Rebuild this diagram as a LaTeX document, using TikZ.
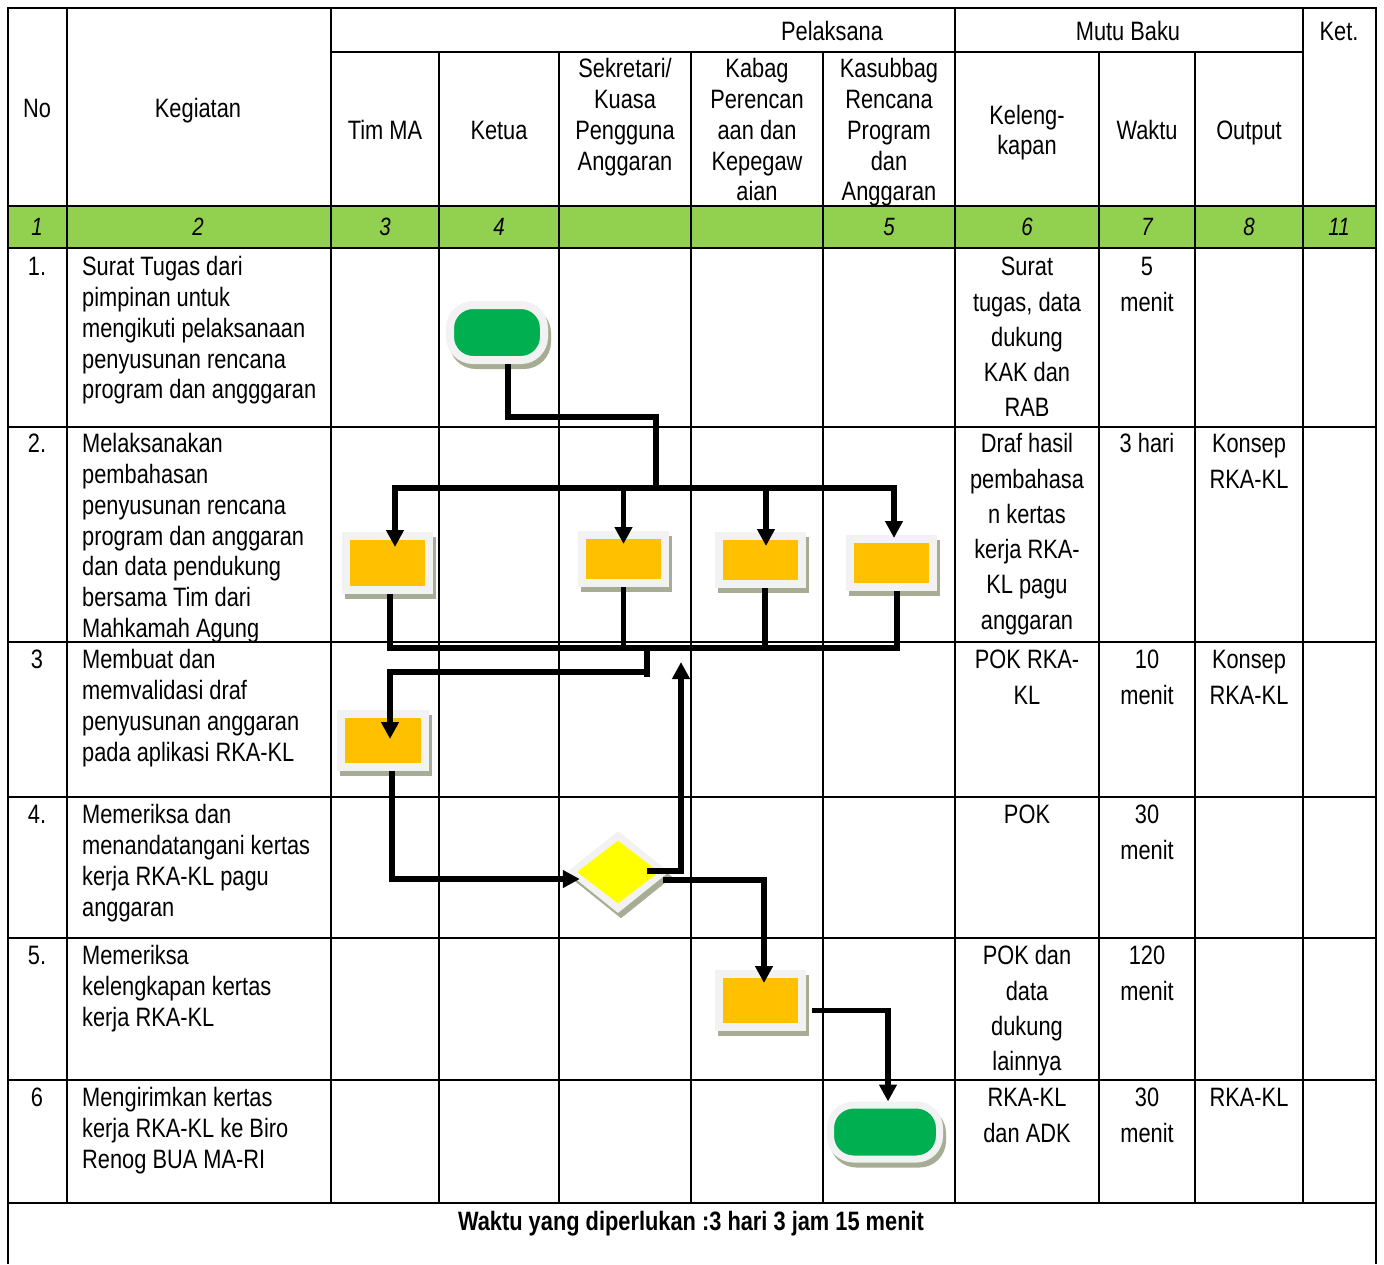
\documentclass[tikz,border=0pt]{standalone}
\usepackage{fontspec}
\setmainfont{Liberation Sans}[FakeStretch=0.82]
\usetikzlibrary{arrows.meta,shapes.geometric}

\definecolor{rowgreen}{RGB}{146,208,80}
\definecolor{boxyellow}{RGB}{255,192,0}
\definecolor{decyellow}{RGB}{255,255,0}
\definecolor{termgreen}{RGB}{0,176,80}
\definecolor{rim}{RGB}{242,242,242}
\definecolor{shade}{RGB}{166,173,148}

\begin{document}
\begin{tikzpicture}[x=1pt,y=-1pt]
      \newcommand{\rowfont}[0]{\fontsize{26.6}{30.8}\selectfont}
      \newcommand{\tallfont}[0]{\fontsize{26.6}{35.3}\selectfont}
      \newcommand{\lnstrut}[0]{\rule{0pt}{20pt}}
      \newcommand{\tablebottom}[0]{1203}
      
      \useasboundingbox (0,0) rectangle (1384,1264);
      
      \tikzstyle{hline}=[
        line width=2.4pt,
        line cap=rect,
      ]
      \tikzstyle{vline}=[
        line width=1.4pt,
      ]
      \tikzstyle{txt}=[
        inner sep=0pt,
        font=\rowfont,
      ]
      \tikzstyle{head}=[
        txt,
        anchor=base,
      ]
      \tikzstyle{cell}=[
        txt,
        anchor=north,
        align=center,
      ]
      \tikzstyle{tallcell}=[
        cell,
        font=\tallfont,
      ]
      \tikzstyle{keg}=[
        txt,
        anchor=north west,
        align=left,
      ]
      \tikzstyle{num}=[
        inner sep=0pt,
        anchor=base,
        font=\fontsize{25}{30}\selectfont\itshape,
      ]
      \tikzstyle{shadowed}=[
        preaction={draw=shade, fill=shade, transform canvas={shift={(3pt,-5pt)}}},
      ]
      \tikzstyle{taskbox}=[
        rectangle,
        shadowed,
        draw=rim,
        line width=8pt,
        fill=boxyellow,
        inner sep=0pt,
        minimum width=83pt,
        minimum height=48pt,
      ]
      \tikzstyle{term}=[
        rectangle,
        rounded corners=23pt,
        shadowed,
        draw=rim,
        line width=8pt,
        fill=termgreen,
        inner sep=0pt,
        minimum width=94pt,
        minimum height=55pt,
      ]
      \tikzstyle{link}=[
        line width=5.5pt,
        draw=black,
        line join=miter,
      ]
      \tikzstyle{flow}=[
        link,
        -{Triangle[length=17pt,width=17pt]},
      ]
      
      % table grid
      \fill[rowgreen] (8,206) rectangle (1376,248);
      \draw[hline] (8,8) -- (1376,8);
      \draw[hline] (331,52) -- (1303,52);
      \draw[hline] (8,206) -- (1376,206);
      \draw[hline] (8,248) -- (1376,248);
      \draw[hline] (8,427) -- (1376,427);
      \draw[hline] (8,642) -- (1376,642);
      \draw[hline] (8,797) -- (1376,797);
      \draw[hline] (8,938) -- (1376,938);
      \draw[hline] (8,1080) -- (1376,1080);
      \draw[hline] (8,\tablebottom) -- (1376,\tablebottom);
      
      \draw[vline] (8,8) -- (8,1264);
      \draw[vline] (1376,8) -- (1376,1264);
      \draw[vline] (67,8) -- (67,\tablebottom);
      \draw[vline] (331,8) -- (331,\tablebottom);
      \draw[vline] (439,52) -- (439,\tablebottom);
      \draw[vline] (559,52) -- (559,\tablebottom);
      \draw[vline] (691,52) -- (691,\tablebottom);
      \draw[vline] (823,52) -- (823,\tablebottom);
      \draw[vline] (955,8) -- (955,\tablebottom);
      \draw[vline] (1099,52) -- (1099,\tablebottom);
      \draw[vline] (1195,52) -- (1195,\tablebottom);
      \draw[vline] (1303,8) -- (1303,\tablebottom);
      
      % header
      \node[head] (hNo) at (37,117.5) {No};
      \node[head] (hKeg) at (198,117.5) {Kegiatan};
      \node[head] (hPel) at (832,40.5) {Pelaksana};
      \node[head] (hMutu) at (1128,40.5) {Mutu Baku};
      \node[head] (hKet) at (1339,40.5) {Ket.};
      \node[head] (hTim) at (385,139.5) {Tim MA};
      \node[head] (hKetua) at (499,139.5) {Ketua};
      \node[cell] (hSek) at (625,57.5) {\lnstrut Sekretari/\\Kuasa\\Pengguna\\Anggaran};
      \node[cell] (hKabag) at (757,57.5) {\lnstrut Kabag\\Perencan\\aan dan\\Kepegaw\\aian};
      \node[cell] (hKasub) at (889,57.5) {\lnstrut Kasubbag\\Rencana\\Program\\dan\\Anggaran};
      \node[cell, font=\fontsize{26.6}{30}\selectfont] (hKel) at (1027,104.5) {\lnstrut Keleng-\\kapan};
      \node[head] (hWaktu) at (1147,139.5) {Waktu};
      \node[head] (hOut) at (1249,139.5) {Output};
      
      % column numbers
      \node[num] (nI) at (37,235) {1};
      \node[num] (nII) at (198,235) {2};
      \node[num] (nIII) at (385,235) {3};
      \node[num] (nIV) at (499,235) {4};
      \node[num] (nV) at (889,235) {5};
      \node[num] (nVI) at (1027,235) {6};
      \node[num] (nVII) at (1147,235) {7};
      \node[num] (nVIII) at (1249,235) {8};
      \node[num] (nXI) at (1339,235) {11};
      
      % row 1
      \node[cell] (noI) at (37,255.5) {\lnstrut 1.};
      \node[keg] (kegI) at (82,255.5) {\lnstrut Surat Tugas dari\\pimpinan untuk\\mengikuti pelaksanaan\\penyusunan rencana\\program dan angggaran};
      \node[tallcell] (kelI) at (1027,255.5) {\lnstrut Surat\\tugas, data\\dukung\\KAK dan\\RAB};
      \node[tallcell] (wakI) at (1147,255.5) {\lnstrut 5\\menit};
      
      % row 2
      \node[cell] (noII) at (37,432.5) {\lnstrut 2.};
      \node[keg] (kegII) at (82,432.5) {\lnstrut Melaksanakan\\pembahasan\\penyusunan rencana\\program dan anggaran\\dan data pendukung\\bersama Tim dari\\Mahkamah Agung};
      \node[tallcell] (kelII) at (1027,432.5) {\lnstrut Draf hasil\\pembahasa\\n kertas\\kerja RKA-\\KL pagu\\anggaran};
      \node[tallcell] (wakII) at (1147,432.5) {\lnstrut 3 hari};
      \node[tallcell] (outII) at (1249,432.5) {\lnstrut Konsep\\RKA-KL};
      
      % row 3
      \node[cell] (noIII) at (37,648.5) {\lnstrut 3};
      \node[keg] (kegIII) at (82,648.5) {\lnstrut Membuat dan\\memvalidasi draf\\penyusunan anggaran\\pada aplikasi RKA-KL};
      \node[tallcell] (kelIII) at (1027,648.5) {\lnstrut POK RKA-\\KL};
      \node[tallcell] (wakIII) at (1147,648.5) {\lnstrut 10\\menit};
      \node[tallcell] (outIII) at (1249,648.5) {\lnstrut Konsep\\RKA-KL};
      
      % row 4
      \node[cell] (noIV) at (37,803.5) {\lnstrut 4.};
      \node[keg] (kegIV) at (82,803.5) {\lnstrut Memeriksa dan\\menandatangani kertas\\kerja RKA-KL pagu\\anggaran};
      \node[tallcell] (kelIV) at (1027,803.5) {\lnstrut POK};
      \node[tallcell] (wakIV) at (1147,803.5) {\lnstrut 30\\menit};
      
      % row 5
      \node[cell] (noV) at (37,944.5) {\lnstrut 5.};
      \node[keg] (kegV) at (82,944.5) {\lnstrut Memeriksa\\kelengkapan kertas\\kerja RKA-KL};
      \node[tallcell] (kelV) at (1027,944.5) {\lnstrut POK dan\\data\\dukung\\lainnya};
      \node[tallcell] (wakV) at (1147,944.5) {\lnstrut 120\\menit};
      
      % row 6
      \node[cell] (noVI) at (37,1086.5) {\lnstrut 6};
      \node[keg] (kegVI) at (82,1086.5) {\lnstrut Mengirimkan kertas\\kerja RKA-KL ke Biro\\Renog BUA MA-RI};
      \node[tallcell] (kelVI) at (1027,1086.5) {\lnstrut RKA-KL\\dan ADK};
      \node[tallcell] (wakVI) at (1147,1086.5) {\lnstrut 30\\menit};
      \node[tallcell] (outVI) at (1249,1086.5) {\lnstrut RKA-KL};
      
      % total
      \node[head, font=\rowfont\bfseries] (total) at (691,1230.5) {Waktu yang diperlukan :3 hari 3 jam 15 menit};
      
      % flow shapes
      \node[term] (rInI) at (497,332.5) {};
      \node[taskbox, minimum height=54pt] (rIInI) at (387.5,563) {};
      \node[taskbox] (rIInII) at (623.5,559) {};
      \node[taskbox] (rIInIII) at (760,560) {};
      \node[taskbox] (rIInIV) at (891.5,563) {};
      \node[taskbox, minimum width=84pt, minimum height=53pt] (rIIInI) at (383,740.5) {};
      \node[diamond, shadowed, fill=rim, inner sep=0pt, minimum width=102pt, minimum height=82pt] (rIVnI) at (618,872) {};
      \node[diamond, fill=decyellow, inner sep=0pt, minimum width=82pt, minimum height=63pt] (rIVnIin) at (rIVnI) {};
      \node[taskbox, minimum height=53pt] (rVnI) at (760.5,1000.5) {};
      \node[term, line width=7pt, minimum width=109pt, minimum height=54pt] (rVInI) at (885,1132) {};
      
      % connectors
      \coordinate (split) at (656,488);
      \coordinate (merge) at (647,648);
      \coordinate (balik) at (681,662);
      
      \draw[link] ([xshift=11pt]rInI.south) -- ++(0,53) -| (split);
      \draw[flow] (split) -| ([xshift=7.5pt,yshift=-15pt]rIInI.north);
      \draw[flow] (split) -| ([yshift=-13pt]rIInII.north);
      \draw[flow] (split) -| ([xshift=6pt,yshift=-14pt]rIInIII.north);
      \draw[flow] (split) -| ([xshift=2.5pt,yshift=-3pt]rIInIV.north);
      
      \draw[link] ([xshift=2.5pt]rIInI.south) |- (merge);
      \draw[link] (rIInII.south) |- (merge);
      \draw[link] ([xshift=5pt]rIInIII.south) |- (merge);
      \draw[link] ([xshift=5.5pt]rIInIV.south) |- (merge);
      
      \draw[link] (merge) -- ++(0,29);
      \draw[flow] (merge) -- ++(0,24) -| ([xshift=7pt,yshift=-29pt]rIIInI.north);
      \draw[flow] ([xshift=9pt]rIIInI.south) |- ([xshift=13pt,yshift=-7pt]rIVnI.west);
      \draw[flow] ([xshift=-22pt,yshift=1pt]rIVnI.east) -| (balik);
      \draw[flow] ([xshift=-6pt,yshift=-8pt]rIVnI.east) -| ([xshift=3.5pt,yshift=-13pt]rVnI.north);
      \draw[flow] ([xshift=6pt,yshift=-10pt]rVnI.east) -| ([xshift=3pt]rVInI.north);
\end{tikzpicture}
\end{document}
